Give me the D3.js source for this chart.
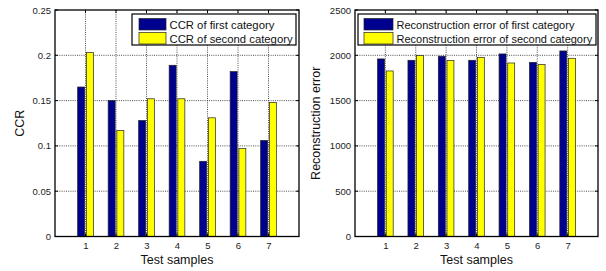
<!DOCTYPE html>
<html><head><meta charset="utf-8">
<script src="https://cdn.jsdelivr.net/npm/d3@7"></script>
<style>body{margin:0;background:#fff}svg{display:block}text{font-family:"Liberation Sans",Arial,Helvetica,sans-serif}</style>
</head><body>
<svg id="c" width="606" height="271"></svg>
<script>
const samples = [1,2,3,4,5,6,7];
const ccrFirst  = [0.165,0.150,0.128,0.189,0.083,0.182,0.106];
const ccrSecond = [0.203,0.117,0.152,0.152,0.131,0.097,0.148];
const recFirst  = [1960,1945,1990,1945,2015,1922,2048];
const recSecond = [1827,1998,1942,1975,1915,1898,1967];
const ccrTicks = [0,0.05,0.1,0.15,0.2,0.25];
const recTicks = [0,500,1000,1500,2000,2500];
const ccrLegend = ["CCR of first category","CCR of second category"];
const recLegend = ["Reconstruction error of first category","Reconstruction error of second category"];
const colors = ["#00008F","#FFFF00"];

const svg = d3.select("#c");

function panel(o){
  const g = svg.append("g");
  const x = d3.scaleLinear().domain([0,8]).range([o.left,o.right]);
  const y = d3.scaleLinear().domain([0,o.ymax]).range([o.bottom,o.top]);
  // grid
  g.selectAll(".gx").data(samples).enter().append("line")
    .attr("x1",d=>x(d)).attr("x2",d=>x(d)).attr("y1",o.top).attr("y2",o.bottom)
    .attr("stroke","#222").attr("stroke-width",0.8).attr("stroke-dasharray","1,1.2");
  g.selectAll(".gy").data(o.ticks.slice(1,-1)).enter().append("line")
    .attr("x1",o.left).attr("x2",o.right).attr("y1",d=>y(d)).attr("y2",d=>y(d))
    .attr("stroke","#222").attr("stroke-width",0.8).attr("stroke-dasharray","1,1.2");
  // bars
  const gw = 2/3.5, bw = gw/2*0.8;
  [o.s1,o.s2].forEach((s,i)=>{
    const off = -gw/2 + (2*i+1)*gw/4;
    g.selectAll(".b"+i).data(s).enter().append("rect")
      .attr("x",(d,j)=>x(samples[j]+off-bw/2))
      .attr("width",x(bw)-x(0))
      .attr("y",d=>y(d)).attr("height",d=>y(0)-y(d))
      .attr("fill",colors[i]).attr("stroke","#222").attr("stroke-width",0.7);
  });
  // axes
  const ax = d3.axisBottom(x).tickValues(samples).tickSize(0).tickPadding(6);
  g.append("g").attr("transform",`translate(0,${o.bottom})`).call(ax)
    .call(a=>a.select(".domain").remove())
    .selectAll("text").attr("font-size",9.5).attr("fill","#222")
    .attr("font-family","Liberation Sans, Arial, sans-serif");
  const ay = d3.axisLeft(y).tickValues(o.ticks).tickFormat(o.fmt).tickSize(0).tickPadding(4);
  g.append("g").attr("transform",`translate(${o.left},0)`).call(ay)
    .call(a=>a.select(".domain").remove())
    .selectAll("text").attr("font-size",9.5).attr("fill","#222")
    .attr("font-family","Liberation Sans, Arial, sans-serif");
  // inward ticks
  samples.forEach(d=>{
    g.append("line").attr("x1",x(d)).attr("x2",x(d)).attr("y1",o.bottom).attr("y2",o.bottom-3).attr("stroke","#000");
    g.append("line").attr("x1",x(d)).attr("x2",x(d)).attr("y1",o.top).attr("y2",o.top+3).attr("stroke","#000");
  });
  o.ticks.forEach(d=>{
    g.append("line").attr("x1",o.left).attr("x2",o.left+3).attr("y1",y(d)).attr("y2",y(d)).attr("stroke","#000");
    g.append("line").attr("x1",o.right).attr("x2",o.right-3).attr("y1",y(d)).attr("y2",y(d)).attr("stroke","#000");
  });
  g.append("rect").attr("x",o.left).attr("y",o.top).attr("width",o.right-o.left).attr("height",o.bottom-o.top)
    .attr("fill","none").attr("stroke","#000").attr("stroke-width",1.3);
  // labels
  g.append("text").attr("x",(o.left+o.right)/2).attr("y",264).attr("text-anchor","middle")
    .attr("font-size",12.5).attr("fill","#111").text("Test samples");
  g.append("text").attr("transform",`translate(${o.ylx},${(o.top+o.bottom)/2}) rotate(-90)`)
    .attr("text-anchor","middle").attr("font-size",12.5).attr("fill","#111").text(o.ylabel);
  // legend
  const L = o.leg;
  g.append("rect").attr("x",L.x).attr("y",L.y).attr("width",L.w).attr("height",L.h)
    .attr("fill","#fff").attr("stroke","#000").attr("stroke-width",1.2);
  o.legText.forEach((t,i)=>{
    g.append("rect").attr("x",L.sx).attr("y",L.y+4.5+i*14).attr("width",L.sw).attr("height",11.5)
      .attr("fill",colors[i]).attr("stroke","#222").attr("stroke-width",0.7);
    g.append("text").attr("x",L.sx+L.sw+3.5).attr("y",L.y+14.5+i*14)
      .attr("font-size",L.fs).attr("fill","#111").text(t);
  });
}

panel({left:55,right:299,top:10,bottom:236.5,ymax:0.25,ticks:ccrTicks,
  fmt:d=>d===0?"0":String(d),s1:ccrFirst,s2:ccrSecond,ylabel:"CCR",ylx:24,
  legText:ccrLegend,leg:{x:132,y:14,w:164,h:31,sx:139,sw:27,fs:11.3}});
panel({left:355,right:598,top:10,bottom:236.5,ymax:2500,ticks:recTicks,
  fmt:d=>String(d),s1:recFirst,s2:recSecond,ylabel:"Reconstruction error",ylx:320,
  legText:recLegend,leg:{x:358,y:14,w:238,h:31,sx:364,sw:29,fs:11}});
</script>
</body></html>
